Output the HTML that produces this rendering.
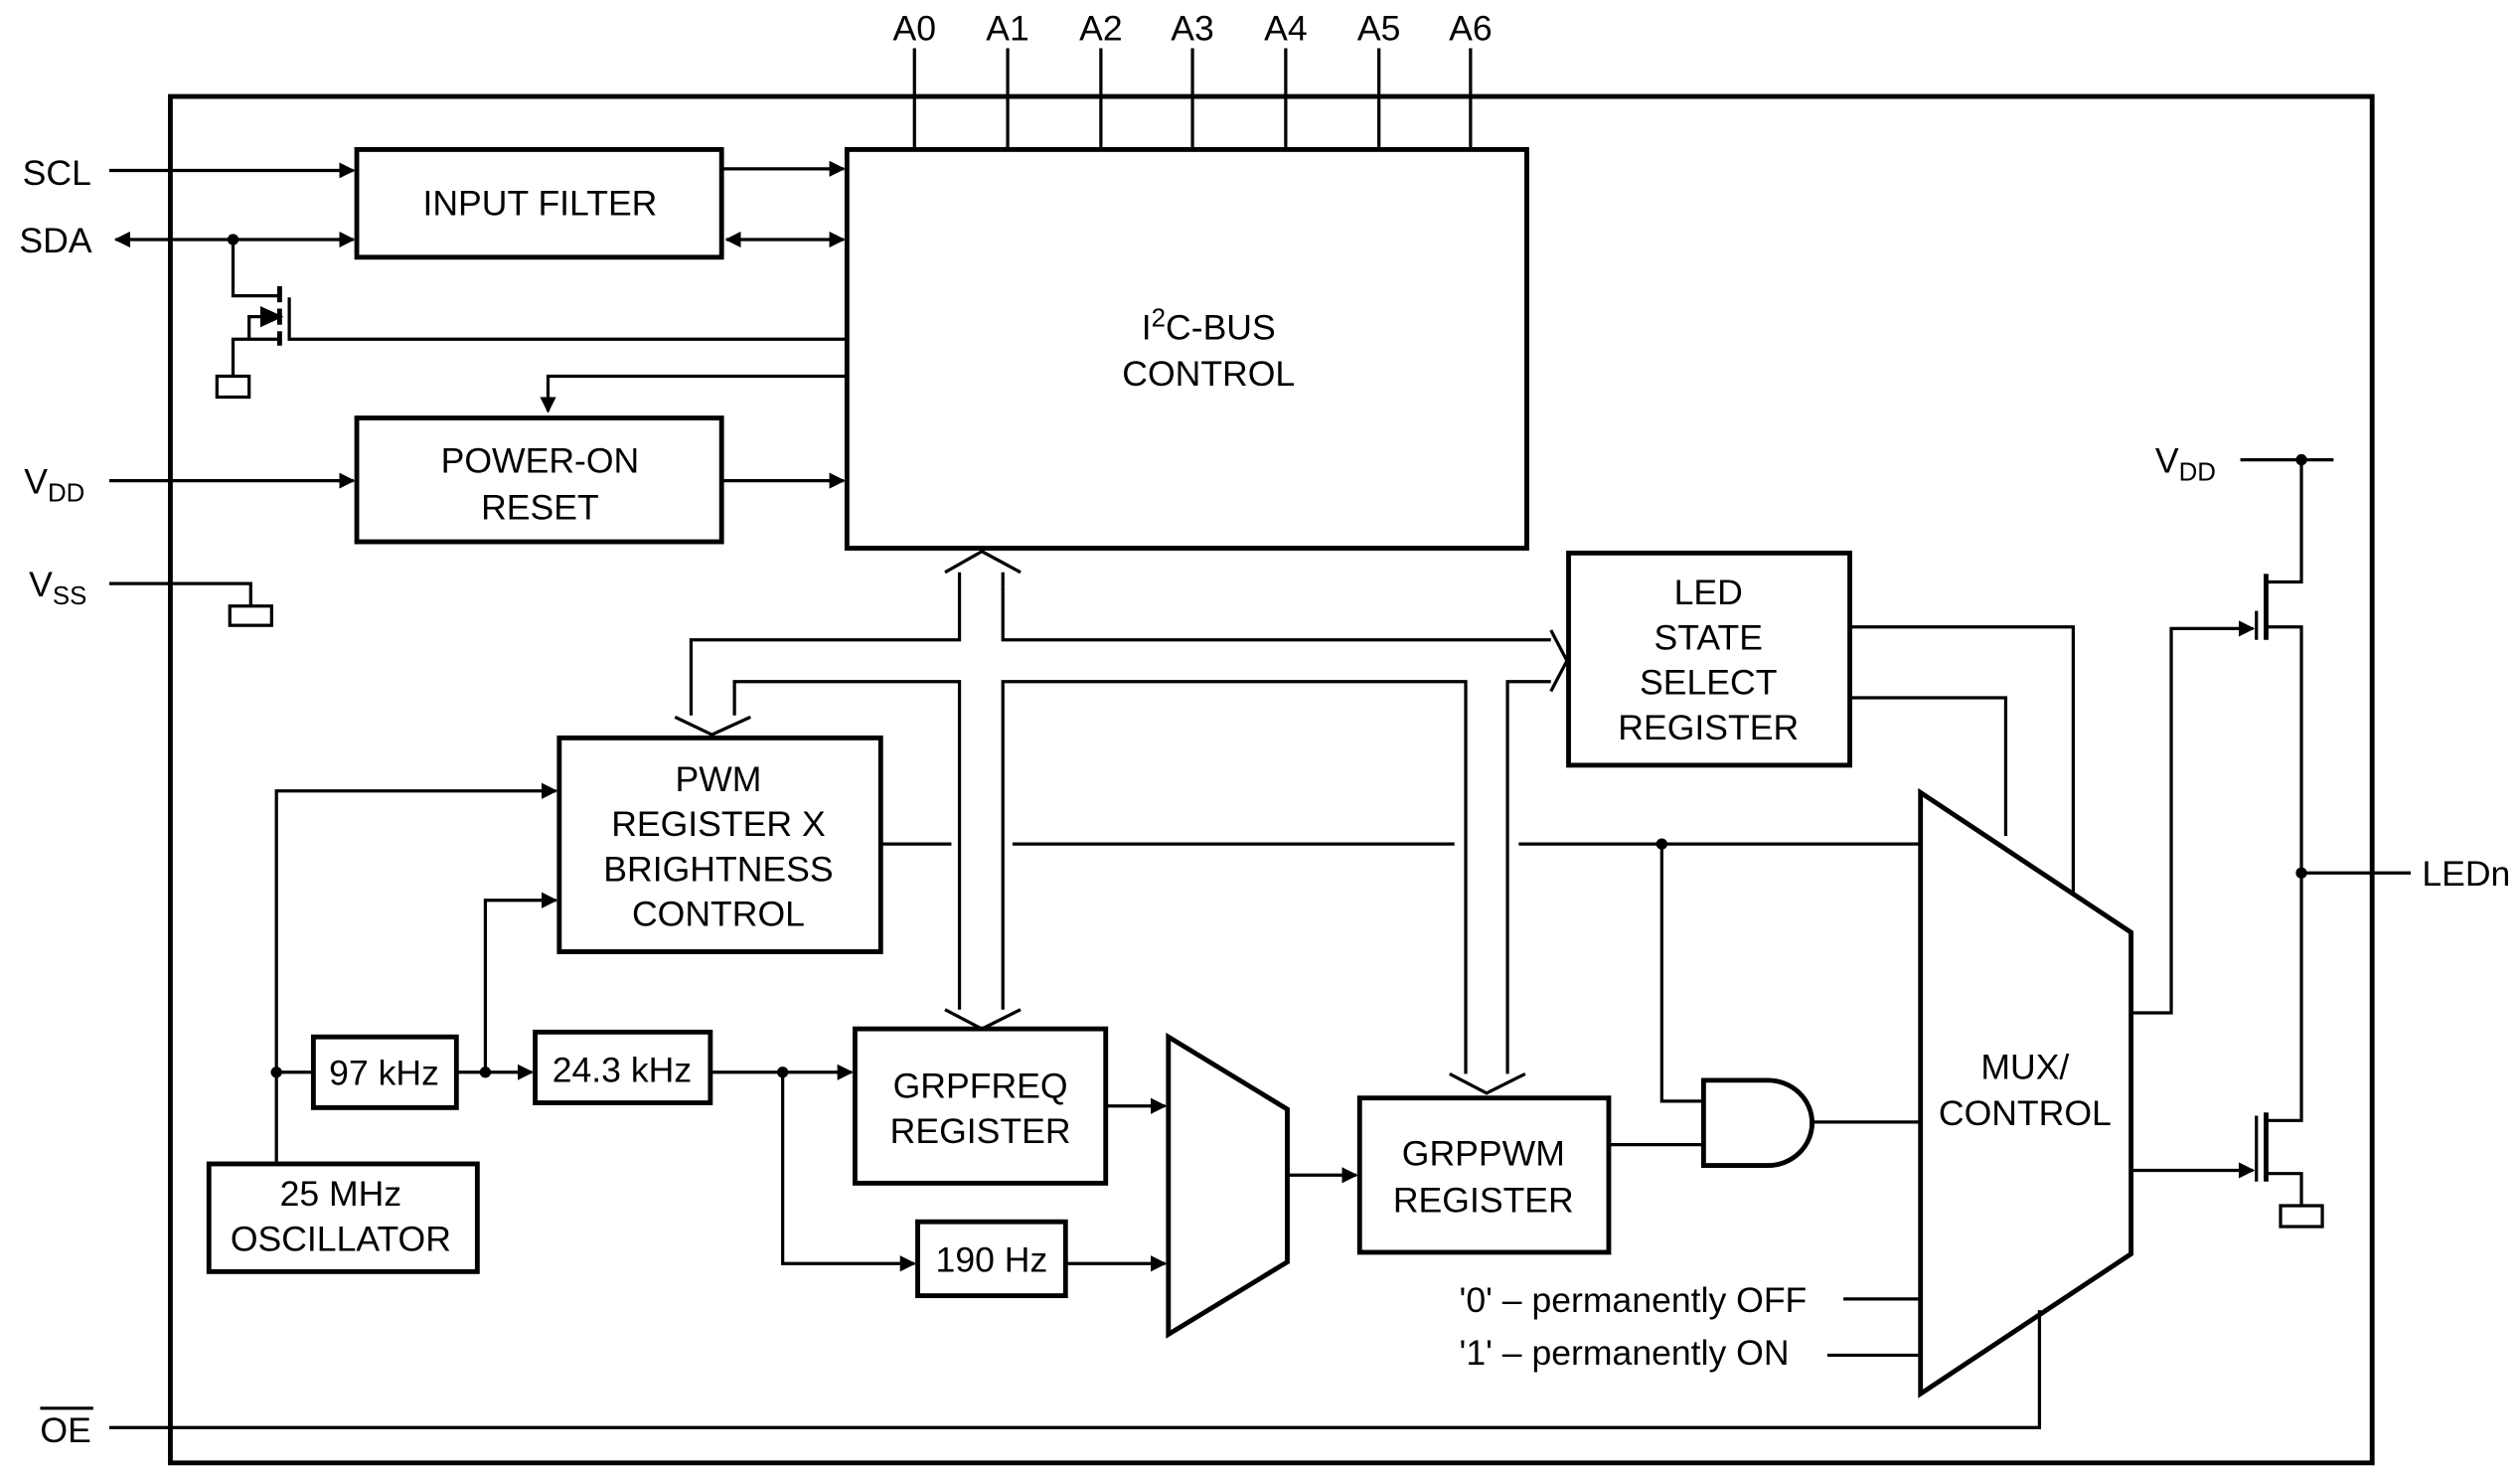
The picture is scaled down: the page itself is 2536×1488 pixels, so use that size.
<!DOCTYPE html>
<html><head><meta charset="utf-8"><style>
html,body{margin:0;padding:0;background:#fff}
svg{display:block}
text{font-family:"Liberation Sans",Arial,sans-serif;font-size:22px;fill:#000}
</style></head><body>
<svg width="2536" height="1488" viewBox="0 0 1568 920" xmlns="http://www.w3.org/2000/svg">
<defs>
<marker id="a" markerWidth="10" markerHeight="10" refX="9" refY="5" orient="auto" markerUnits="userSpaceOnUse"><path d="M0,0 L10,5 L0,10 Z" fill="#000"/></marker>
<marker id="b" markerWidth="10" markerHeight="10" refX="9" refY="5" orient="auto-start-reverse" markerUnits="userSpaceOnUse"><path d="M0,0 L10,5 L0,10 Z" fill="#000"/></marker>
</defs>
<g fill="none" stroke="#000" stroke-width="2">
<rect x="106" y="60" width="1370" height="850" stroke-width="3"/>
<!-- address lines -->
<path d="M569,30V93M627,30V93M685,30V93M742,30V93M800,30V93M858,30V93M915,30V93"/>
<rect x="527" y="93" width="423" height="248" stroke-width="3"/>
<rect x="222" y="93" width="227" height="67" stroke-width="3"/>
<rect x="222" y="260" width="227" height="77" stroke-width="3"/>
<path d="M68,106H220" marker-end="url(#a)"/>
<path d="M449,105H525" marker-end="url(#a)"/>
<path d="M72,149H220" marker-start="url(#b)" marker-end="url(#b)"/>
<path d="M452,149H525" marker-start="url(#b)" marker-end="url(#b)"/>
<!-- transistor -->
<path d="M145,149V184H174"/>
<path d="M174,178V188M174,192V202M174,206V215" stroke-width="3"/>
<path d="M180,185V211H527"/>
<path d="M174,211H145V234M155,211V197H172" />
<path d="M163,192L174,197L163,202Z" fill="#000"/>
<rect x="135" y="234" width="20" height="13"/>
<path d="M527,234H341V256" marker-end="url(#a)"/>
<path d="M68,299H220" marker-end="url(#a)"/>
<path d="M449,299H525" marker-end="url(#a)"/>
<path d="M68,363H156V377"/>
<rect x="143" y="377" width="26" height="12"/>
<!-- bus -->
<path d="M597,365V398H430V445M624,365V398H965M457,445V424H597V628M624,628V424H912V668M938,668V424H965"/>
<path d="M588,356L611,343L635,356M597,356V365M624,356V365"/>
<path d="M420,446L443,457L467,446"/>
<path d="M588,628L611,640L635,628"/>
<path d="M902,668L925,680L949,668"/>
<path d="M965,392L975,411L965,430"/>
<!-- PWM -->
<rect x="348" y="459" width="200" height="133" stroke-width="3"/>
<rect x="976" y="344" width="175" height="132" stroke-width="3"/>
<path d="M548,525H592M630,525H905M945,525H1195"/>
<path d="M1034,525V685H1060"/>
<path d="M1151,390H1290V555M1151,434H1248V520"/>
<path d="M1195,493L1326,580V780L1195,867Z" stroke-width="3"/>
<path d="M1060,672H1100A27,26 0 0 1 1100,725H1060Z" stroke-width="3"/>
<path d="M1127,698H1195"/>
<rect x="846" y="683" width="155" height="96" stroke-width="3"/>
<path d="M1001,712H1060"/>
<rect x="532" y="640" width="156" height="96" stroke-width="3"/>
<path d="M688,688H725" marker-end="url(#a)"/>
<path d="M727,645L801,690V785L727,830Z" stroke-width="3"/>
<path d="M801,731H844" marker-end="url(#a)"/>
<rect x="571" y="760" width="92" height="46" stroke-width="3"/>
<path d="M663,786H725" marker-end="url(#a)"/>
<rect x="333" y="642" width="109" height="44" stroke-width="3"/>
<rect x="195" y="645" width="89" height="44" stroke-width="3"/>
<rect x="130" y="724" width="167" height="67" stroke-width="3"/>
<path d="M172,724V492H346" marker-end="url(#a)"/>
<path d="M172,667H195"/>
<path d="M284,667H331" marker-end="url(#a)"/>
<path d="M302,667V560H346" marker-end="url(#a)"/>
<path d="M442,667H530" marker-end="url(#a)"/>
<path d="M487,667V786H569" marker-end="url(#a)"/>
<path d="M1147,808H1195M1137,843H1195"/>
<path d="M68,888H1269V815"/>
<!-- output transistors -->
<path d="M1394,286H1452M1432,286V362H1410M1410,390H1432V697H1410M1410,730H1432V750M1432,543H1500"/>
<path d="M1410,357V398M1410,692V735" stroke-width="3"/>
<path d="M1404,380V398M1404,694V735"/>
<path d="M1326,630H1351V391H1402" marker-end="url(#a)"/>
<path d="M1326,728H1402" marker-end="url(#a)"/>
<rect x="1419" y="750" width="26" height="13"/>
</g>
<g fill="#000">
<circle cx="145" cy="149" r="3.5"/><circle cx="1034" cy="525" r="3.5"/>
<circle cx="172" cy="667" r="3.5"/><circle cx="302" cy="667" r="3.5"/>
<circle cx="487" cy="667" r="3.5"/><circle cx="1432" cy="286" r="3.5"/>
<circle cx="1432" cy="543" r="3.5"/>
</g>
<g text-anchor="middle">
<text x="569" y="25">A0</text><text x="627" y="25">A1</text><text x="685" y="25">A2</text><text x="742" y="25">A3</text><text x="800" y="25">A4</text><text x="858" y="25">A5</text><text x="915" y="25">A6</text>
<text x="752" y="211">I<tspan dy="-8" font-size="16">2</tspan><tspan dy="8">C-BUS</tspan></text>
<text x="752" y="240">CONTROL</text>
<text x="336" y="134">INPUT FILTER</text>
<text x="336" y="294">POWER-ON</text><text x="336" y="323">RESET</text>
<text x="447" y="492">PWM</text><text x="447" y="520">REGISTER X</text><text x="447" y="548">BRIGHTNESS</text><text x="447" y="576">CONTROL</text>
<text x="1063" y="376">LED</text><text x="1063" y="404">STATE</text><text x="1063" y="432">SELECT</text><text x="1063" y="460">REGISTER</text>
<text x="1260" y="671">MUX/</text><text x="1260" y="700">CONTROL</text>
<text x="923" y="725">GRPPWM</text><text x="923" y="754">REGISTER</text>
<text x="610" y="683">GRPFREQ</text><text x="610" y="711">REGISTER</text>
<text x="617" y="791">190 Hz</text>
<text x="387" y="673">24.3 kHz</text>
<text x="239" y="675">97 kHz</text>
<text x="212" y="750">25 MHz</text><text x="212" y="778">OSCILLATOR</text>
</g>
<text x="14" y="115">SCL</text>
<text x="12" y="157">SDA</text>
<text x="15" y="307">V<tspan font-size="16" dy="5">DD</tspan></text>
<text x="18" y="371">V<tspan font-size="16" dy="5">SS</tspan></text>
<text x="25" y="897">OE</text>
<path d="M25,876H58" stroke="#000" stroke-width="2"/>
<text x="1341" y="294">V<tspan font-size="16" dy="5">DD</tspan></text>
<text x="1507" y="551">LEDn</text>
<text x="908" y="816">'0' – permanently OFF</text>
<text x="908" y="849">'1' – permanently ON</text>
</svg>
</body></html>
